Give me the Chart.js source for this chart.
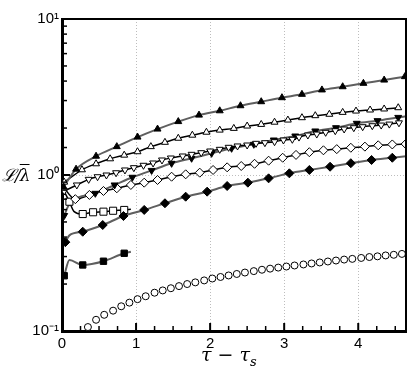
<!DOCTYPE html>
<html>
<head>
<meta charset="utf-8">
<script src="https://cdn.jsdelivr.net/npm/chart.js@4.4.1/dist/chart.umd.min.js"></script>
<style>
  body { margin: 0; background: #fff; }
  #wrap { position: relative; width: 415px; height: 369px; }
  #yTitle { position: absolute; left: 2px; top: 163px; font: italic 17px 'DejaVu Serif', serif; letter-spacing: -1px; }
  #yTitle .bar { text-decoration: overline; }
  #xTitle { position: absolute; left: 201px; top: 343px; font: italic 19px 'DejaVu Serif', serif; }
  #xTitle sub { font-size: 13px; }
</style>
</head>
<body>
<div id="wrap">
  <canvas id="chart" width="415" height="369"></canvas>
  <div id="yTitle">ℒ/<span class="bar">λ</span></div>
  <div id="xTitle">τ − τ<sub>s</sub></div>
</div>
<script>
// filled triangle up, grey line
const triUpFilledX = [0.02, 0.19, 0.46, 0.74, 1.02, 1.29, 1.57, 1.85, 2.13, 2.41, 2.69, 2.97, 3.24, 3.51, 3.79, 4.07, 4.35, 4.63];
const triUpFilledY = [0.84, 1.09, 1.32, 1.52, 1.75, 1.97, 2.20, 2.42, 2.58, 2.78, 2.95, 3.13, 3.29, 3.51, 3.68, 3.87, 4.06, 4.27];

// open triangle up, black line
const triUpOpenX = [0.03, 0.27, 0.46, 0.65, 0.84, 1.02, 1.20, 1.39, 1.57, 1.76, 1.95, 2.13, 2.32, 2.50, 2.69, 2.87, 3.05, 3.24, 3.42, 3.61, 3.79, 3.97, 4.16, 4.35, 4.54];
const triUpOpenY = [0.90, 1.08, 1.18, 1.27, 1.34, 1.41, 1.52, 1.62, 1.72, 1.80, 1.88, 1.94, 1.99, 2.06, 2.11, 2.18, 2.25, 2.33, 2.40, 2.45, 2.52, 2.57, 2.61, 2.65, 2.70];

// open triangle down, black line
const triDownOpenX = [0.03, 0.20, 0.36, 0.48, 0.60, 0.73, 0.85, 0.97, 1.10, 1.23, 1.35, 1.47, 1.63, 1.75, 1.88, 2.00, 2.13, 2.25, 2.37, 2.50, 2.62, 2.74, 2.87, 2.99, 3.11, 3.20, 3.32, 3.44, 3.56, 3.69, 3.81, 3.94, 4.06, 4.19, 4.31, 4.42, 4.55];
const triDownOpenY = [0.79, 0.863, 0.938, 0.975, 1.0, 1.034, 1.077, 1.114, 1.154, 1.194, 1.248, 1.285, 1.324, 1.357, 1.39, 1.425, 1.461, 1.505, 1.535, 1.557, 1.596, 1.611, 1.635, 1.676, 1.694, 1.75, 1.804, 1.83, 1.878, 1.923, 1.972, 2.01, 2.04, 2.07, 2.09, 2.12, 2.16];

// filled triangle down, grey line
const triDownFilledX = [0.03, 0.45, 0.71, 0.95, 1.21, 1.48, 1.75, 2.02, 2.29, 2.59, 2.86, 3.15, 3.42, 3.70, 3.98, 4.26, 4.54];
const triDownFilledY = [0.55, 0.763, 0.863, 0.967, 1.07, 1.188, 1.28, 1.377, 1.483, 1.573, 1.676, 1.778, 1.915, 2.01, 2.145, 2.23, 2.34];
const triDownFilledPathX = [0.10, 4.645];
const triDownFilledPathY = [0.65, 2.38];

// open diamond, black line
const diamondOpenX = [0.18, 0.37, 0.56, 0.74, 0.93, 1.11, 1.29, 1.48, 1.67, 1.86, 2.04, 2.23, 2.42, 2.60, 2.79, 2.98, 3.16, 3.34, 3.53, 3.71, 3.90, 4.09, 4.27, 4.46, 4.64];
const diamondOpenY = [0.70, 0.745, 0.79, 0.822, 0.863, 0.893, 0.929, 0.975, 1.01, 1.035, 1.077, 1.12, 1.142, 1.18, 1.235, 1.29, 1.345, 1.40, 1.44, 1.465, 1.495, 1.52, 1.55, 1.57, 1.58];
const diamondOpenPathX = [0.0];
const diamondOpenPathY = [0.86];

// filled diamond, grey line
const diamondFilledX = [0.045, 0.28, 0.55, 0.83, 1.11, 1.39, 1.67, 1.96, 2.23, 2.51, 2.79, 3.07, 3.34, 3.62, 3.90, 4.18, 4.46];
const diamondFilledY = [0.371, 0.433, 0.478, 0.546, 0.597, 0.659, 0.726, 0.782, 0.85, 0.893, 0.952, 1.025, 1.077, 1.13, 1.19, 1.248, 1.29];
const diamondFilledPathX = [0.10, 4.645];
const diamondFilledPathY = [0.41, 1.32];

// open square, black line
const squareOpenX = [0.10, 0.28, 0.42, 0.56, 0.69, 0.84];
const squareOpenY = [0.674, 0.562, 0.577, 0.582, 0.59, 0.597];
const squareOpenPathX = [0.02, 0.16, 0.93];
const squareOpenPathY = [0.80, 0.585, 0.603];

// filled square, grey line
const squareFilledX = [0.03, 0.28, 0.56, 0.84];
const squareFilledY = [0.226, 0.265, 0.28, 0.315];
const squareFilledPathX = [0.10, 0.93];
const squareFilledPathY = [0.285, 0.322];

// open circles, no line
const circleX = [0.35, 0.46, 0.57, 0.69, 0.80, 0.91, 1.02, 1.13, 1.25, 1.36, 1.47, 1.58, 1.69, 1.80, 1.92, 2.03, 2.14, 2.25, 2.36, 2.47, 2.59, 2.70, 2.81, 2.92, 3.03, 3.14, 3.26, 3.37, 3.48, 3.59, 3.70, 3.81, 3.92, 4.04, 4.15, 4.26, 4.37, 4.48, 4.59];
const circleY = [0.106, 0.118, 0.127, 0.135, 0.144, 0.152, 0.160, 0.167, 0.176, 0.182, 0.188, 0.194, 0.200, 0.205, 0.211, 0.217, 0.222, 0.227, 0.232, 0.237, 0.242, 0.247, 0.251, 0.255, 0.259, 0.263, 0.267, 0.271, 0.275, 0.279, 0.283, 0.287, 0.290, 0.294, 0.298, 0.301, 0.305, 0.308, 0.312];

const superscripts = { '-1': '10⁻¹', '0': '10⁰', '1': '10¹' };

function toPoints(xs, ys) {
    return xs.map((x, i) => ({ x: x, y: ys[i] }));
}

// curve through the markers plus the extra knots, sorted along x
function pathPoints(xs, ys, extraX = [], extraY = []) {
    return toPoints(xs, ys).concat(toPoints(extraX, extraY)).sort((a, b) => a.x - b.x);
}

const GREY = '#5f5f5f';

function lineSet(points, color, width) {
    return {
        data: points,
        borderColor: color,
        borderWidth: width,
        pointRadius: 0,
        fill: false,
        tension: 0.4,
        cubicInterpolationMode: 'monotone',
        order: 2,
    };
}

function markerSet(points, style, filled, radius, rotation = 0) {
    return {
        data: points,
        showLine: false,
        pointStyle: style,
        pointRotation: rotation,
        pointRadius: radius,
        pointBorderWidth: 1,
        pointBorderColor: '#000',
        pointBackgroundColor: filled ? '#000' : '#fff',
        order: 1,
    };
}

// inward tick marks and the top / right frame
const frameTicks = {
    id: 'frameTicks',
    afterDatasetsDraw(chart) {
        const { ctx, chartArea: a, scales } = chart;
        ctx.save();
        ctx.strokeStyle = '#000';
        scales.x.ticks.forEach(t => {
            const px = scales.x.getPixelForValue(t.value);
            const major = Math.abs(t.value - Math.round(t.value)) < 1e-6;
            ctx.lineWidth = major ? 2 : 1.5;
            ctx.beginPath();
            ctx.moveTo(px, a.bottom);
            ctx.lineTo(px, a.bottom - (major ? 8 : 5));
            ctx.stroke();
        });
        scales.y.ticks.forEach(t => {
            const py = scales.y.getPixelForValue(t.value);
            const l = Math.log10(t.value);
            const major = Math.abs(l - Math.round(l)) < 1e-6;
            ctx.lineWidth = major ? 2 : 1.5;
            ctx.beginPath();
            ctx.moveTo(a.left, py);
            ctx.lineTo(a.left + (major ? 8 : 5), py);
            ctx.stroke();
        });
        ctx.lineWidth = 2;
        ctx.beginPath();
        ctx.moveTo(a.left, a.top);
        ctx.lineTo(a.right, a.top);
        ctx.lineTo(a.right, a.bottom);
        ctx.stroke();
        ctx.restore();
    },
};

const ctx = document.getElementById('chart').getContext('2d');

new Chart(ctx, {
    type: 'line',
    data: {
        datasets: [
            markerSet(toPoints(triUpFilledX, triUpFilledY), 'triangle', true, 4),
            markerSet(toPoints(triUpOpenX, triUpOpenY), 'triangle', false, 4),
            markerSet(toPoints(triDownOpenX, triDownOpenY), 'triangle', false, 4, 180),
            markerSet(toPoints(triDownFilledX, triDownFilledY), 'triangle', true, 4, 180),
            markerSet(toPoints(diamondOpenX, diamondOpenY), 'rectRot', false, 4.5),
            markerSet(toPoints(diamondFilledX, diamondFilledY), 'rectRot', true, 4.5),
            markerSet(toPoints(squareOpenX, squareOpenY), 'rect', false, 5),
            markerSet(toPoints(squareFilledX, squareFilledY), 'rect', true, 4.5),
            markerSet(toPoints(circleX, circleY), 'circle', false, 3.5),

            lineSet(pathPoints(triUpFilledX, triUpFilledY), GREY, 2),
            lineSet(pathPoints(triUpOpenX, triUpOpenY), '#000', 1.5),
            lineSet(pathPoints(triDownOpenX, triDownOpenY), '#000', 1.5),
            lineSet(pathPoints(triDownFilledX, triDownFilledY, triDownFilledPathX, triDownFilledPathY), GREY, 2),
            lineSet(pathPoints(diamondOpenX, diamondOpenY, diamondOpenPathX, diamondOpenPathY), '#000', 1.5),
            lineSet(pathPoints(diamondFilledX, diamondFilledY, diamondFilledPathX, diamondFilledPathY), GREY, 2),
            lineSet(pathPoints(squareOpenX, squareOpenY, squareOpenPathX, squareOpenPathY), '#000', 1.5),
            lineSet(pathPoints(squareFilledX, squareFilledY, squareFilledPathX, squareFilledPathY), GREY, 2),
        ],
    },
    options: {
        responsive: false,
        animation: false,
        devicePixelRatio: 1,
        layout: { padding: { top: 19, right: 9, left: 0, bottom: 0 } },
        plugins: { legend: { display: false }, tooltip: { enabled: false } },
        scales: {
            x: {
                type: 'linear',
                min: 0,
                max: 4.645,
                afterFit: s => { s.height = 38; },
                ticks: {
                    stepSize: 0.25,
                    autoSkip: false,
                    includeBounds: false,
                    maxRotation: 0,
                    padding: 4,
                    color: '#000',
                    font: { family: 'Liberation Sans', size: 15 },
                    callback: v => (Math.abs(v - Math.round(v)) < 1e-6 ? String(Math.round(v)) : ''),
                },
                grid: {
                    drawTicks: false,
                    lineWidth: 1,
                    color: c => {
                        const v = c.tick ? c.tick.value : 0;
                        return v > 0 && Math.abs(v - Math.round(v)) < 1e-6 ? '#bdbdbd' : 'transparent';
                    },
                },
                border: { display: true, color: '#000', width: 3, dash: [1, 2] },
            },
            y: {
                type: 'logarithmic',
                min: 0.1,
                max: 10,
                afterFit: s => { s.width = 62; },
                ticks: {
                    autoSkip: false,
                    includeBounds: false,
                    padding: 3,
                    color: '#000',
                    font: { family: 'Liberation Sans', size: 15 },
                    callback: v => {
                        const l = Math.log10(v);
                        return Math.abs(l - Math.round(l)) < 1e-6 ? superscripts[String(Math.round(l))] : '';
                    },
                },
                grid: {
                    drawTicks: false,
                    lineWidth: 1,
                    color: c => {
                        const v = c.tick ? c.tick.value : 0;
                        return Math.abs(v - 1) < 1e-6 ? '#bdbdbd' : 'transparent';
                    },
                },
                border: { display: true, color: '#000', width: 3, dash: [1, 2] },
            },
        },
    },
    plugins: [frameTicks],
});
</script>
</body>
</html>
